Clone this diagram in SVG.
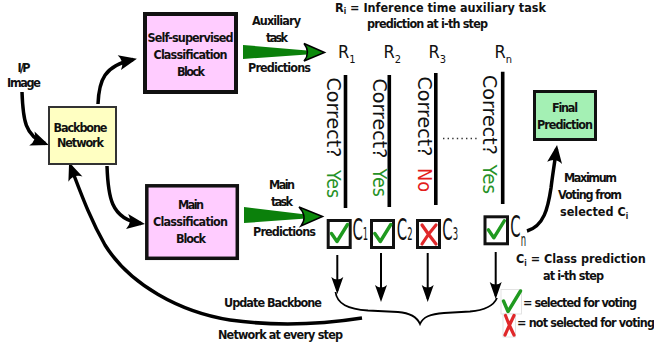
<svg xmlns="http://www.w3.org/2000/svg" width="654" height="349" viewBox="0 0 654 349">
<style>
.lb{font-family:"DejaVu Sans Condensed","DejaVu Sans",sans-serif;font-stretch:condensed;font-weight:bold;font-size:12.5px;fill:#111}
.c{text-anchor:middle}
.rot{font-family:"DejaVu Sans",sans-serif;font-size:19px;fill:#111}
.rl{font-family:"DejaVu Sans Condensed","DejaVu Sans",sans-serif;font-stretch:condensed;font-size:18px;fill:#111}
.cl{font-family:"DejaVu Sans Condensed","DejaVu Sans",sans-serif;font-stretch:condensed;font-size:30px;fill:#111}
.yes{fill:#269126}
.no{fill:#e3201c}
.bar{stroke:#000;stroke-width:3.6;fill:none}
.box{fill:#fff;stroke:#111;stroke-width:3}
.chk{fill:none;stroke:#1f9a1f;stroke-width:3.4;stroke-linecap:round;stroke-linejoin:round}
.x{fill:none;stroke:#e0282a;stroke-width:3.2;stroke-linecap:round}
.blk{fill:none;stroke:#000;stroke-width:3.5}
.thin{fill:none;stroke:#000;stroke-width:2}
.wedge{fill:#0b800b}
.gh{fill:#0b8a0b;stroke:#000;stroke-width:1.5;stroke-linejoin:miter}
</style>
<defs>
<marker id="ahBig" viewBox="-20 -9 22 18" refX="-4" refY="0" markerWidth="22" markerHeight="18" markerUnits="userSpaceOnUse" orient="auto">
<path d="M0,0 L-18,-7.5 Q-12.5,0 -18,7.5 Z" fill="#000"/>
</marker>
<marker id="ahDown" viewBox="-19 -8 21 16" refX="-3" refY="0" markerWidth="21" markerHeight="16" markerUnits="userSpaceOnUse" orient="auto">
<path d="M0,0 L-17,-6 Q-12,0 -17,6 Z" fill="#000"/>
</marker>
</defs>
<rect width="654" height="349" fill="#fff"/>

<g id="connectors">
<path class="blk" d="M22,92 C23,120 25,136 45,143.5" stroke-width="2.5" marker-end="url(#ahBig)"/>
<path class="blk" d="M98,104 C99,80 104,66 133,59.5" stroke-width="3" marker-end="url(#ahBig)"/>
<path class="blk" d="M107,166 C108,195 110,219 141,223.5" stroke-width="3" marker-end="url(#ahBig)"/>
<path class="blk" d="M362,318 C330,323 280,327 230,320 C180,312 130,285 105,245 C92,222 84,202 70.5,166" stroke-width="3.8" marker-end="url(#ahBig)"/>
<path class="blk" d="M527,231 C544,226 548,208 551,188 C553,172 555,160 556.5,149" stroke-width="4" marker-end="url(#ahBig)"/>
<polygon class="wedge" points="243,45 243,59 307,54.5 307,50.5"/>
<path class="gh" d="M324.5,52.5 L304,43.5 Q311,52.5 304,61 Z"/>
<polygon class="wedge" points="244,207 244,223 306,218.5 306,214.5"/>
<path class="gh" d="M322.5,216.5 L299,207 Q308,216.5 301,226 Z"/>
<path class="thin" d="M337.3,255 V291" marker-end="url(#ahDown)"/>
<path class="thin" d="M381,253 V299" marker-end="url(#ahDown)"/>
<path class="thin" d="M427.7,253 V299" marker-end="url(#ahDown)"/>
<path class="thin" d="M495.7,252 V296" marker-end="url(#ahDown)"/>
<path fill="none" stroke="#000" stroke-width="1.8" d="M335.5,292 C337,304 348,309 368,310.5 L398,312 C411,313 417,317 420,324 C423,317 430,314 444,313 L470,311.5 C487,310 494,305 497,298"/>
<path fill="none" stroke="#333" stroke-width="1.4" stroke-dasharray="1.4,3.2" d="M443,138.5 H478"/>
</g>

<g id="ip-image">
<text class="lb c" x="24" y="71.7" textLength="13">I/P</text>
<text class="lb c" x="24" y="87.3" textLength="34">Image</text>
</g>

<g id="backbone">
<rect x="49" y="107" width="67" height="57" fill="#ffffc2" stroke="#333" stroke-width="2"/>
<text class="lb c" x="80.5" y="131.7" textLength="54">Backbone</text>
<text class="lb c" x="80.5" y="147.3" textLength="47">Network</text>
</g>

<g id="ss-block">
<rect x="145" y="14" width="91" height="78" fill="#ffccff" stroke="#111" stroke-width="4"/>
<text class="lb c" x="190.5" y="41.5" textLength="86">Self-supervised</text>
<text class="lb c" x="190.5" y="59" textLength="74">Classification</text>
<text class="lb c" x="191" y="76" textLength="28">Block</text>
</g>

<g id="main-block">
<rect x="146.8" y="185.8" width="90.5" height="72.5" fill="#ffccff" stroke="#111" stroke-width="3.5"/>
<text class="lb c" x="191" y="209.3" textLength="26">Main</text>
<text class="lb c" x="190.5" y="226" textLength="75">Classification</text>
<text class="lb c" x="191" y="242.7" textLength="30">Block</text>
</g>

<g id="final">
<rect x="534.5" y="91.5" width="61" height="48" fill="#a4f0b4" stroke="#111" stroke-width="3"/>
<text class="lb c" x="565" y="112.3" textLength="26">Final</text>
<text class="lb c" x="565" y="129" textLength="56">Prediction</text>
</g>

<g id="labels">
<text class="lb c" x="276.5" y="25" textLength="49">Auxiliary</text>
<text class="lb c" x="277" y="41.7" textLength="22">task</text>
<text class="lb c" x="279.5" y="71.7" textLength="63">Predictions</text>
<text class="lb c" x="282" y="189.3" textLength="26">Main</text>
<text class="lb c" x="282" y="205.7" textLength="22">task</text>
<text class="lb c" x="284.5" y="236" textLength="63">Predictions</text>
<text class="lb c" x="273" y="306.7" textLength="98">Update Backbone</text>
<text class="lb c" x="280.5" y="339.3" textLength="125">Network at every step</text>
<text class="lb" x="335" y="11.7">R<tspan font-size="8" dy="2.5">i</tspan><tspan dy="-2.5"> = Inference time auxiliary task</tspan></text>
<text class="lb c" x="427.5" y="28.3" textLength="121">prediction at i-th step</text>
<text class="lb c" x="590.5" y="182.3" textLength="53">Maximum</text>
<text class="lb c" x="590" y="199.3" textLength="64">Voting from</text>
<text class="lb" x="560" y="216">selected C<tspan font-size="8" dy="2.5">i</tspan></text>
<text class="lb" x="516" y="263">C<tspan font-size="8" dy="2.5">i</tspan><tspan dy="-2.5"> = Class prediction</tspan></text>
<text class="lb" x="543" y="280" textLength="61">at i-th step</text>
</g>

<g id="step-1">
<text class="rl" x="338" y="58">R<tspan font-size="11" dy="5">1</tspan></text>
<line class="bar" x1="345.5" y1="75" x2="345.5" y2="208"/>
<text class="rot" transform="translate(327,77.5) rotate(90)" textLength="80" lengthAdjust="spacingAndGlyphs">Correct?</text>
<text class="rot yes" transform="translate(327,170) rotate(90)" textLength="28" lengthAdjust="spacingAndGlyphs">Yes</text>
<rect class="box" x="328.2" y="220.5" width="22" height="27"/>
<path class="chk" d="M331.5,233.5 L337,241.5 L347.5,224.5"/>
<text class="cl" transform="translate(352.5,240) scale(0.55,1)">C<tspan font-size="17">1</tspan></text>
</g>

<g id="step-2">
<text class="rl" x="383.5" y="58">R<tspan font-size="11" dy="5">2</tspan></text>
<line class="bar" x1="389.3" y1="75" x2="389.3" y2="207"/>
<text class="rot" transform="translate(372.5,78.5) rotate(90)" textLength="80" lengthAdjust="spacingAndGlyphs">Correct?</text>
<text class="rot yes" transform="translate(372.5,168.5) rotate(90)" textLength="28.5" lengthAdjust="spacingAndGlyphs">Yes</text>
<rect class="box" x="371.5" y="220.5" width="22" height="27"/>
<path class="chk" d="M374.8,233.5 L380.3,241.5 L390.8,224.5"/>
<text class="cl" transform="translate(396.8,240) scale(0.55,1)">C<tspan font-size="17">2</tspan></text>
</g>

<g id="step-3">
<text class="rl" x="428.5" y="58">R<tspan font-size="11" dy="5">3</tspan></text>
<line class="bar" x1="435.8" y1="73" x2="435.8" y2="205"/>
<text class="rot" transform="translate(418,76.5) rotate(90)" textLength="80" lengthAdjust="spacingAndGlyphs">Correct?</text>
<text class="rot no" transform="translate(418,168) rotate(90)" textLength="24" lengthAdjust="spacingAndGlyphs">No</text>
<rect class="box" x="417.5" y="220.5" width="22" height="27"/>
<path class="x" d="M422,225 Q428,234 436,244 M436,225 Q428,234 422,244"/>
<text class="cl" transform="translate(442.3,240) scale(0.55,1)">C<tspan font-size="17">3</tspan></text>
</g>

<g id="step-n">
<text class="rl" x="494.5" y="58">R<tspan font-size="11" dy="5">n</tspan></text>
<line class="bar" x1="502.7" y1="71.7" x2="502.7" y2="204"/>
<text class="rot" transform="translate(483.3,75) rotate(90)" textLength="80" lengthAdjust="spacingAndGlyphs">Correct?</text>
<text class="rot yes" transform="translate(483.3,164.5) rotate(90)" textLength="29.5" lengthAdjust="spacingAndGlyphs">Yes</text>
<rect class="box" x="485" y="216.8" width="22.5" height="27"/>
<path class="chk" d="M488.3,229.8 L493.8,237.8 L504.3,220.8"/>
<text class="cl" transform="translate(510.3,237) scale(0.55,1)">C<tspan font-size="17" dy="8.5">n</tspan></text>
</g>

<g id="legend">
<rect x="501" y="289.5" width="20.5" height="24.5" fill="#fff" stroke="#ddd" stroke-width="0.8"/>
<path class="chk" d="M503.5,301 L508,311.5 L520.5,291" stroke-width="3.8"/>
<text class="lb" x="523" y="307" textLength="114">= selected for voting</text>
<rect x="503" y="314" width="12.5" height="23" fill="#fff" stroke="#ddd" stroke-width="0.8"/>
<path class="x" d="M505.5,315.5 Q509,325 514,335 M514,315.5 Q509.5,325 505,335" stroke-width="3"/>
<text class="lb" x="517" y="327" textLength="138">= not selected for voting</text>
</g>
</svg>
